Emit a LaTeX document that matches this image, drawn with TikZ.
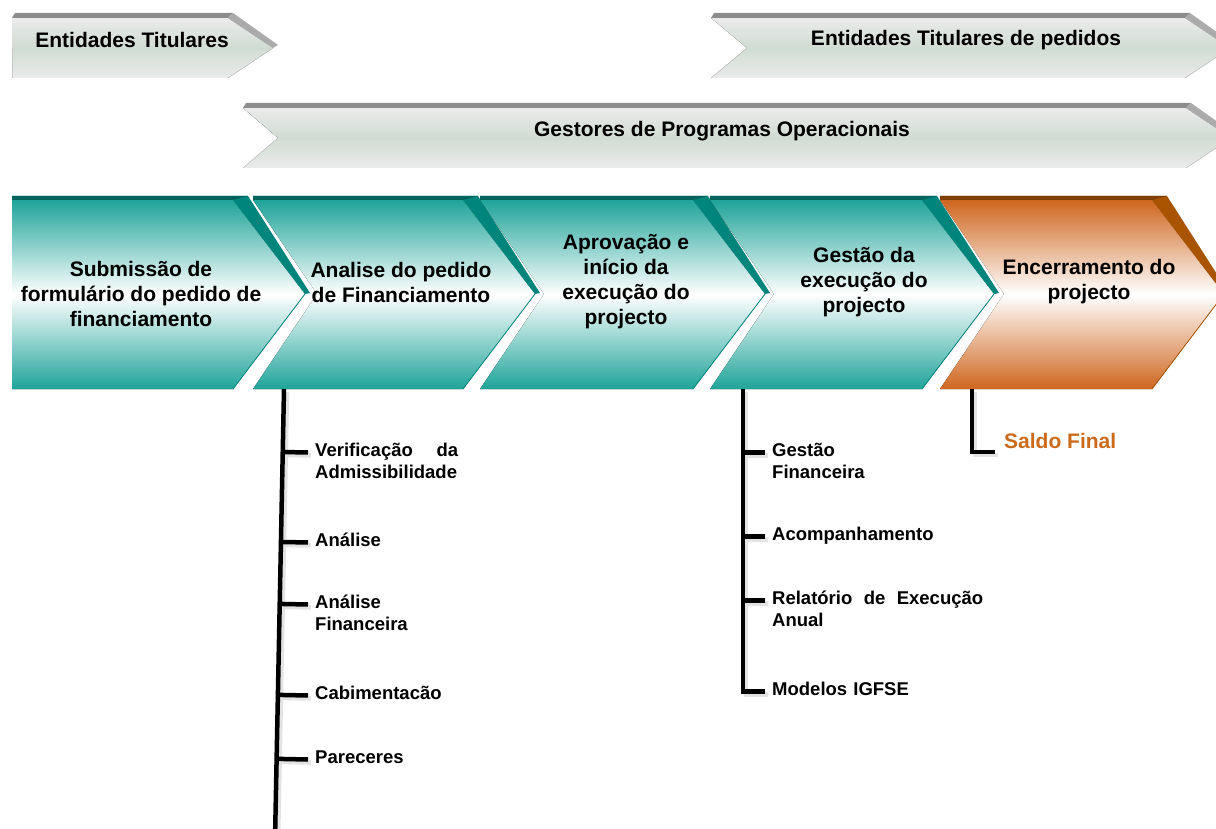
\documentclass[tikz,border=0pt]{standalone}
\usepackage{fontspec}
\setmainfont{Liberation Sans}
\usetikzlibrary{calc}

\definecolor{tealtop}{HTML}{1FA49A}
\definecolor{tealdark}{HTML}{00857C}
\definecolor{orangetop}{HTML}{CF661F}
\definecolor{orangedark}{HTML}{A85400}
\definecolor{bannermid}{HTML}{D0DCD3}
\definecolor{bannerlight}{HTML}{EBEBEB}
\definecolor{bannertop}{HTML}{8C8C8C}
\definecolor{bannerside}{HTML}{ABABAB}
\definecolor{saldo}{HTML}{CC6A1C}

\begin{document}
\begin{tikzpicture}[x=1pt, y=-1pt,
    actor/.style={font=\fontsize{21}{25}\selectfont\bfseries},
    phase/.style={font=\fontsize{21}{25}\selectfont\bfseries, align=center},
    item/.style={font=\fontsize{18.5}{22}\selectfont\bfseries, anchor=base west,
        inner sep=0pt, text width=220pt, align=left},
    trunk/.style={line width=4.5pt},
    tick/.style={line width=4.5pt}]
    \clip (0,0) rectangle (1216,829);
    % grey banners
    \foreach \bLeft/\bNotch/\bRight/\bTop in {12/0/228/13, 711/36/1185/13, 243/35/1186/103} {
        \fill[top color=bannerlight, bottom color=bannerlight, middle color=bannermid]
            (\bLeft,\bTop+5) -- (\bRight,\bTop+5) -- (\bRight+45,\bTop+35) -- (\bRight,\bTop+65)
            -- (\bLeft,\bTop+65) -- (\bLeft+\bNotch,\bTop+35) -- cycle;
        \draw[gray!45, thin] (\bLeft+\bNotch,\bTop+35) -- (\bLeft,\bTop+65);
        \draw[gray!45, thin] (\bRight+45,\bTop+35) -- (\bRight,\bTop+65);
        \fill[bannertop] (\bLeft,\bTop+5) -- (\bLeft+3,\bTop) -- (\bRight+5,\bTop) -- (\bRight,\bTop+5) -- cycle;
        \fill[bannerside] (\bRight,\bTop+5) -- (\bRight+5,\bTop) -- (\bRight+50,\bTop+32) -- (\bRight+45,\bTop+35) -- cycle;
    }
    \node[actor] (b1) at (132,40) {Entidades Titulares};
    \node[actor] (b2) at (966,40) {Entidades Titulares de pedidos};
    \node[actor] (b3) at (722,131) {Gestores de Programas Operacionais};

    % process chevrons
    \foreach \cLeft/\cRight/\cNotch/\cTop/\cDark in {12/233/0/tealtop/tealdark, 253/463/64/tealtop/tealdark,
            480/693/64/tealtop/tealdark, 710/922/64/tealtop/tealdark, 940/1152/64/orangetop/orangedark} {
        \fill[top color=\cTop, bottom color=\cTop, middle color=white]
            (\cLeft,200) -- (\cRight,200) -- (\cRight+72,294) -- (\cRight,389)
            -- (\cLeft,389) -- (\cLeft+\cNotch,294) -- cycle;
        \fill[\cDark] (\cLeft,200) -- (\cLeft,196) -- (\cRight+15,196) -- (\cRight+77,293)
            -- (\cRight+72,294) -- (\cRight,200) -- cycle;
        \fill[\cDark!75!black] (\cLeft,200) -- (\cLeft,196) -- (\cRight+15,196) -- (\cRight,200) -- cycle;
        \draw[\cDark, line width=0.8pt] (\cRight+72,294) -- (\cRight,389);
    }
    \node[phase] (c1) at (141,294) {Submissão de\\formulário do pedido de\\financiamento};
    \node[phase] (c2) at (401,282) {Analise do pedido\\de Financiamento};
    \node[phase] (c3) at (626,282) {Aprovação e\\início da\\execução do\\projecto};
    \node[phase] (c4) at (864,282) {Gestão da\\execução do\\projecto};
    \node[phase] (c5) at (1089,282) {Encerramento do\\projecto};

    % sub-steps
    \node[item, text width=143pt] (v1) at (315,456.5) {Verificação\hfill da\\Admissibilidade};
    \node[item] (v2) at (315,546.5) {Análise};
    \node[item] (v3) at (315,608.5) {Análise\\Financeira};
    \node[item] (v4) at (315,699.5) {Cabimentacão};
    \node[item] (v5) at (315,763.5) {Pareceres};
    \node[item] (w1) at (772,456.5) {Gestão\\Financeira};
    \node[item] (w2) at (772,540.5) {Acompanhamento};
    \node[item, text width=211pt] (w3) at (772,604.5) {Relatório\hfill de\hfill Execução\\Anual};
    \node[item] (w4) at (772,695.5) {Modelos IGFSE};
    \node[actor, text=saldo, anchor=west, inner sep=0pt] (s1) at (1004,441) {Saldo Final};

    \coordinate (ltop) at (284,389);
    \coordinate (lbot) at (275,840);
    \coordinate (rtop) at (743,389);
    \coordinate (stop) at (972,389);
    \coordinate (send) at (995,452);
    \foreach \cItem in {v1,v2,v3,v4,v5,w1,w2,w3,w4}
        \coordinate (\cItem t) at ([xshift=-7pt,yshift=4pt]\cItem.base west);

    % tree lines, shadow first
    \foreach \cCol/\cOff in {gray!22/3, black/0} {
        \begin{scope}[\cCol, transform canvas={shift={(\cOff pt,-\cOff pt)}}]
            \draw[trunk] (ltop) -- (lbot);
            \foreach \cItem in {v1,v2,v3,v4,v5}
                \draw[tick] ($(ltop)!(\cItem t)!(lbot)$) -- (\cItem t);
            \draw[trunk] (rtop) |- (w4t);
            \foreach \cItem in {w1,w2,w3}
                \draw[tick] (rtop |- \cItem t) -- (\cItem t);
            \draw[trunk] (stop) |- (send);
        \end{scope}
    }
\end{tikzpicture}
\end{document}
